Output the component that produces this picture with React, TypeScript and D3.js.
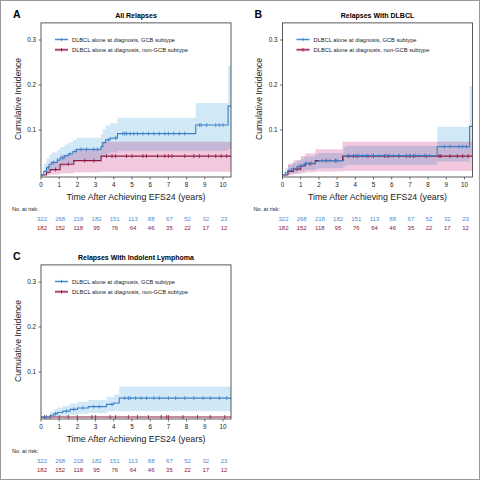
import React from "react";
import * as d3 from "d3";

const years = [0, 1, 2, 3, 4, 5, 6, 7, 8, 9, 10];
const yTicks = [0.1, 0.2, 0.3];
const riskGcb = [322, 268, 218, 182, 151, 113, 88, 67, 52, 32, 23];
const riskNon = [182, 152, 118, 95, 76, 64, 46, 35, 22, 17, 12];
const seriesLabels = ["DLBCL alone at diagnosis, GCB subtype", "DLBCL alone at diagnosis, non-GCB subtype"];
const panelLetters = ["A", "B", "C"];
const panelTitles = ["All Relapses", "Relapses With DLBCL", "Relapses With Indolent Lymphoma"];

// Panel A – GCB
const aGcbTime = [0, 0.15, 0.3, 0.45, 0.6, 0.9, 1.05, 1.3, 1.5, 1.75, 1.95, 3.3, 3.4, 3.55, 3.8, 4.2, 8.5, 10.28];
const aGcbEst = [0, 0.008, 0.016, 0.024, 0.028, 0.033, 0.038, 0.043, 0.047, 0.052, 0.057, 0.063, 0.072, 0.078, 0.082, 0.092, 0.111, 0.153];
const aGcbHi = [0, 0.025, 0.036, 0.045, 0.05, 0.056, 0.062, 0.068, 0.072, 0.078, 0.083, 0.091, 0.102, 0.11, 0.115, 0.127, 0.16, 0.243];
const aGcbLo = [0, 0, 0.003, 0.008, 0.011, 0.014, 0.018, 0.021, 0.024, 0.028, 0.031, 0.036, 0.043, 0.047, 0.05, 0.054, 0.054, 0.058];
const aGcbCens = [0.4, 0.7, 0.9, 1.2, 1.6, 2.2, 2.5, 2.9, 3.1, 3.7, 4.1, 4.5, 4.6, 4.7, 4.9, 5.1, 5.3, 5.6, 5.9, 6.2, 6.5, 6.8, 7.0, 7.3, 7.6, 7.9, 8.7, 8.8, 9.1, 9.6, 9.8, 10.0];
// Panel A – non-GCB
const aNonTime = [0, 0.3, 0.5, 1.05, 1.8, 3.3];
const aNonEst = [0, 0.006, 0.012, 0.024, 0.032, 0.042];
const aNonHi = [0, 0.02, 0.03, 0.045, 0.058, 0.074];
const aNonLo = [0, 0, 0.001, 0.004, 0.006, 0.007];
const aNonCens = [0.8, 1.5, 2.4, 2.9, 3.6, 3.9, 4.1, 4.7, 5.0, 5.6, 5.8, 6.4, 6.8, 7.0, 7.2, 7.9, 8.4, 8.7, 9.2, 9.6, 9.9, 10.2];

// Panel B – GCB
const bGcbTime = [0, 0.15, 0.3, 0.5, 0.8, 1.0, 1.2, 1.8, 2.0, 3.35, 3.5, 8.5, 10.28];
const bGcbEst = [0, 0.005, 0.01, 0.014, 0.019, 0.022, 0.026, 0.03, 0.032, 0.041, 0.043, 0.063, 0.108];
const bGcbHi = [0, 0.015, 0.022, 0.027, 0.033, 0.036, 0.041, 0.046, 0.049, 0.062, 0.065, 0.107, 0.198];
const bGcbLo = [0, 0, 0.002, 0.004, 0.007, 0.009, 0.011, 0.014, 0.015, 0.02, 0.022, 0.03, 0.04];
const bGcbCens = [0.4, 0.6, 0.9, 1.3, 1.6, 2.2, 2.6, 3.0, 3.7, 4.0, 4.2, 4.4, 4.6, 4.9, 5.0, 5.3, 5.7, 5.9, 6.1, 6.4, 6.8, 7.0, 7.3, 7.5, 7.8, 8.1, 8.9, 9.2, 9.7, 9.9, 10.1];
// Panel B – non-GCB
const bNonTime = [0, 0.3, 0.6, 1.0, 1.25, 1.8, 3.3];
const bNonEst = [0, 0.008, 0.013, 0.02, 0.025, 0.032, 0.042];
const bNonHi = [0, 0.025, 0.033, 0.042, 0.048, 0.057, 0.074];
const bNonLo = [0, 0, 0.002, 0.004, 0.006, 0.008, 0.009];
const bNonCens = [0.8, 1.5, 2.4, 2.9, 3.6, 3.9, 4.1, 4.7, 5.0, 5.6, 5.8, 6.4, 6.8, 7.0, 7.2, 7.9, 8.6, 8.7, 9.2, 9.6, 9.9, 10.2];

// Panel C – GCB
const cGcbTime = [0, 0.5, 0.7, 0.9, 1.2, 1.6, 2.0, 2.6, 3.6, 4.0, 4.3];
const cGcbEst = [0, 0.004, 0.007, 0.01, 0.013, 0.017, 0.02, 0.023, 0.028, 0.031, 0.042];
const cGcbHi = [0, 0.012, 0.017, 0.021, 0.025, 0.03, 0.034, 0.038, 0.045, 0.05, 0.068];
const cGcbLo = [0, 0, 0, 0.001, 0.003, 0.005, 0.007, 0.009, 0.012, 0.013, 0.013];
const cGcbCens = [0.3, 0.8, 1.4, 1.8, 2.3, 2.9, 3.2, 3.9, 4.6, 4.8, 4.9, 5.2, 5.5, 5.8, 6.2, 6.5, 7.0, 7.4, 7.9, 8.4, 8.9, 9.3, 9.8, 10.2];
// Panel C – non-GCB
const cNonTime = [0];
const cNonEst = [0];
const cNonHi = [0];
const cNonLo = [0];
const cNonCens = [0.2, 0.5, 1.0, 1.5, 2.0, 2.8, 3.0, 3.8, 4.1, 4.8, 5.3, 5.9, 6.6, 6.9, 7.0, 7.8, 8.6, 9.3, 10.1];

const BLUE = "#3d7fc6";
const RED = "#8a1a3e";
const BLUE_BAND = "#d1e9f6";
const PINK_BAND = "#f2c8df";
const FONT = "'Liberation Sans', Arial, sans-serif";

type Series = { time: number[]; est: number[]; hi: number[]; lo: number[]; cens: number[] };

const panels: { gcb: Series; non: Series; ox: number; oy: number }[] = [
  { gcb: { time: aGcbTime, est: aGcbEst, hi: aGcbHi, lo: aGcbLo, cens: aGcbCens }, non: { time: aNonTime, est: aNonEst, hi: aNonHi, lo: aNonLo, cens: aNonCens }, ox: 0, oy: 0 },
  { gcb: { time: bGcbTime, est: bGcbEst, hi: bGcbHi, lo: bGcbLo, cens: bGcbCens }, non: { time: bNonTime, est: bNonEst, hi: bNonHi, lo: bNonLo, cens: bNonCens }, ox: 241.5, oy: 0 },
  { gcb: { time: cGcbTime, est: cGcbEst, hi: cGcbHi, lo: cGcbLo, cens: cGcbCens }, non: { time: cNonTime, est: cNonEst, hi: cNonHi, lo: cNonLo, cens: cNonCens }, ox: 0, oy: 242 },
];

const X_END = 10.44;

function toPoints(s: Series) {
  const pts = s.time.map((t, i) => ({ t, e: s.est[i], h: s.hi[i], l: s.lo[i] }));
  const last = pts[pts.length - 1];
  pts.push({ t: X_END, e: last.e, h: last.h, l: last.l });
  return pts;
}

function valueAt(s: Series, t: number) {
  let v = 0;
  for (let i = 0; i < s.time.length; i++) if (s.time[i] <= t) v = s.est[i];
  return v;
}

function Panel({ idx }: { idx: number }) {
  const p = panels[idx];
  const x = d3.scaleLinear().domain([0, X_END]).range([41, 231]);
  const y = d3.scaleLinear().domain([0, 0.3]).range([175, 40]);
  const top = y(0.338);
  const bottom = 177;
  const line = d3.line<any>().x((d) => x(d.t)).y((d) => y(d.e)).curve(d3.curveStepAfter);
  const area = d3.area<any>().x((d) => x(d.t)).y0((d) => y(d.l)).y1((d) => y(d.h)).curve(d3.curveStepAfter);
  const g = toPoints(p.gcb);
  const n = toPoints(p.non);
  const clipId = `clip${idx}`;
  return (
    <g transform={`translate(${p.ox},${p.oy})`} fontFamily={FONT}>
      <defs>
        <clipPath id={clipId}>
          <rect x={41} y={top} width={190} height={bottom - top} />
        </clipPath>
      </defs>
      <text x={13} y={18} fontSize={10.5} fontWeight="bold">{panelLetters[idx]}</text>
      <text x={136} y={18} fontSize={7} fontWeight="bold" textAnchor="middle">{panelTitles[idx]}</text>
      <g clipPath={`url(#${clipId})`}>
        <path d={area(g) || ""} fill={BLUE_BAND} />
        <path d={area(n) || ""} fill={PINK_BAND} style={{ mixBlendMode: "multiply" }} />
        <path d={line(n) || ""} fill="none" stroke={RED} strokeWidth={1.1} />
        {p.non.cens.map((t, i) => (
          <line key={"n" + i} x1={x(t)} x2={x(t)} y1={y(valueAt(p.non, t)) - 2} y2={y(valueAt(p.non, t)) + 2} stroke={RED} strokeWidth={0.8} />
        ))}
        <path d={line(g) || ""} fill="none" stroke={BLUE} strokeWidth={1.1} />
        {p.gcb.cens.map((t, i) => (
          <line key={"g" + i} x1={x(t)} x2={x(t)} y1={y(valueAt(p.gcb, t)) - 2} y2={y(valueAt(p.gcb, t)) + 2} stroke={BLUE} strokeWidth={0.8} />
        ))}
      </g>
      <rect x={41} y={top} width={190} height={bottom - top} fill="none" stroke="#333" strokeWidth={0.8} />
      {yTicks.map((v) => (
        <g key={v}>
          <line x1={38.5} x2={41} y1={y(v)} y2={y(v)} stroke="#333" strokeWidth={0.7} />
          <text x={36} y={y(v) + 2.2} fontSize={6.3} textAnchor="end" fill="#222">{v.toFixed(1)}</text>
        </g>
      ))}
      {years.map((v) => (
        <g key={v}>
          <line x1={x(v)} x2={x(v)} y1={bottom} y2={bottom + 2.5} stroke="#333" strokeWidth={0.7} />
          <text x={x(v)} y={186.5} fontSize={6.3} textAnchor="middle" fill="#222">{v}</text>
        </g>
      ))}
      <text x={136} y={199.5} fontSize={9.6} textAnchor="middle" textLength={139} lengthAdjust="spacingAndGlyphs" fill="#222">Time After Achieving EFS24 (years)</text>
      <text transform="translate(20.5,99) rotate(-90)" fontSize={9.6} textAnchor="middle" textLength={82} lengthAdjust="spacingAndGlyphs" fill="#222">Cumulative Incidence</text>
      {/* legend */}
      <line x1={55} x2={68} y1={39.5} y2={39.5} stroke="#b9dcf2" strokeWidth={2.5} />
      <line x1={55} x2={68} y1={39.5} y2={39.5} stroke={BLUE} strokeWidth={0.9} />
      <line x1={61.5} x2={61.5} y1={37.8} y2={41.2} stroke={BLUE} strokeWidth={0.8} />
      <text x={72} y={41.6} fontSize={5.8} textLength={103} lengthAdjust="spacingAndGlyphs" fill="#222">{seriesLabels[0]}</text>
      <line x1={55} x2={68} y1={49.8} y2={49.8} stroke="#e7a6cb" strokeWidth={2.8} />
      <line x1={55} x2={68} y1={49.8} y2={49.8} stroke={RED} strokeWidth={1} />
      <line x1={61.5} x2={61.5} y1={48} y2={51.6} stroke={RED} strokeWidth={0.8} />
      <text x={72} y={51.9} fontSize={5.8} textLength={116} lengthAdjust="spacingAndGlyphs" fill="#222">{seriesLabels[1]}</text>
      {/* number at risk */}
      <text x={12} y={210.5} fontSize={5.5} fill="#222">No. at risk:</text>
      {riskGcb.map((v, i) => (
        <text key={"rg" + i} x={x(years[i]) + 1} y={220.5} fontSize={6} textAnchor="middle" fill="#4a8fcf">{v}</text>
      ))}
      {riskNon.map((v, i) => (
        <text key={"rn" + i} x={x(years[i]) + 1} y={230} fontSize={6} textAnchor="middle" fill={RED}>{v}</text>
      ))}
    </g>
  );
}

export default function App() {
  return (
    <div style={{ position: "absolute", left: 0, top: 0 }}>
      <svg width={480} height={480} style={{ display: "block", background: "#fff" }}>
        <rect x={0.5} y={0.5} width={479} height={479} fill="#fff" stroke="#999" strokeWidth={1} />
        {panels.map((_, i) => (
          <Panel key={i} idx={i} />
        ))}
      </svg>
    </div>
  );
}
